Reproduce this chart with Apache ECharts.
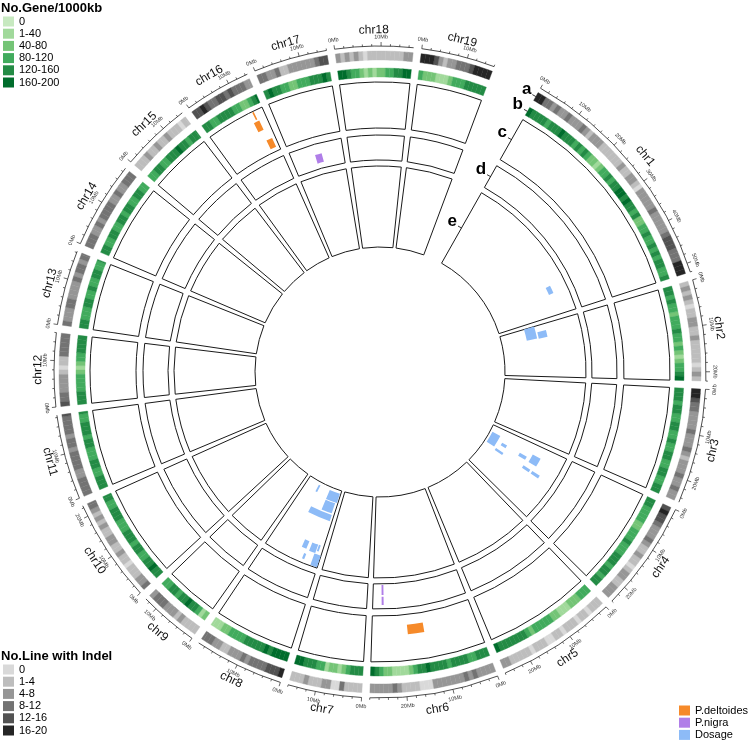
<!DOCTYPE html>
<html><head><meta charset="utf-8">
<script src="https://cdn.jsdelivr.net/npm/echarts@6/dist/echarts.min.js"></script>
<style>html,body{margin:0;padding:0;background:#fff}#c{width:750px;height:745px}</style>
</head><body><div id="c"></div>
<script>
// ---------------- DATA ----------------
const chromNames = ['chr1','chr2','chr3','chr4','chr5','chr6','chr7','chr8','chr9','chr10','chr11','chr12','chr13','chr14','chr15','chr16','chr17','chr18','chr19'];
const chromLengths = [52, 22, 25, 24, 26, 28, 16, 19.5, 13, 22.5, 18.5, 16, 16.3, 18.9, 15.3, 14.5, 16, 17, 16]; // Mb

// Track a: No.Line with Indel, level index per 1Mb bin (0..5)
const indelLevels = [
 [5,5,3,3,2,3,2,2,3,2,2,2,3,2,1,2,2,2,1,1,1,1,1,1,2,1,1,2,2,1,0,2,2,2,2,2,3,2,2,2,2,2,3,4,4,4,3,3,3,5,5,5],
 [1,2,1,2,1,0,1,1,2,2,1,1,2,1,1,1,1,1,0,1,2,1],
 [5,5,4,3,3,2,2,2,2,3,2,2,2,3,2,1,2,2,2,3,2,2,3,2,2],
 [4,5,4,4,3,2,2,2,3,2,1,1,2,1,1,0,1,2,2,1,1,2,2,2],
 [1,1,1,0,1,1,0,1,1,1,0,1,1,0,0,1,1,1,0,1,1,1,1,1,2,2],
 [2,2,2,2,3,2,3,2,2,2,2,2,2,2,0,0,0,1,1,1,1,2,3,2,2,2,2,2],
 [1,1,1,1,3,0,0,2,2,1,1,1,2,1,1,1],
 [5,4,4,4,3,3,3,3,2,3,2,2,2,1,1,2,2,3,3,3],
 [1,1,1,1,2,1,2,2,2,3,3,3,2],
 [3,2,2,1,1,1,0,1,1,2,1,1,2,2,1,1,2,1,2,1,2,3,3],
 [3,3,3,3,2,2,3,3,3,3,2,3,3,2,3,3,3,3,4],
 [4,3,3,2,2,2,2,1,0,1,1,3,3,3,3,3],
 [3,2,2,2,3,3,2,2,2,2,3,2,3,3,2,3,3],
 [3,3,3,2,2,3,2,3,3,3,3,2,2,3,2,2,3,3,3],
 [1,1,1,2,1,1,2,1,1,2,1,1,1,0,1,1],
 [4,4,5,4,3,3,4,4,3,4,3,3,3,2,2],
 [3,3,2,2,3,1,1,2,2,2,2,2,2,3,4,4],
 [2,1,2,1,2,1,0,1,1,1,1,1,1,1,1,2,2],
 [5,5,5,4,2,1,2,2,3,3,3,4,5,5,5,5]
];
// Track b: No.Gene/1000kb, level index per 1Mb bin (0..5)
const geneLevels = [
 [5,4,4,4,4,3,4,4,4,5,4,4,4,3,4,3,4,3,2,2,1,2,3,3,4,3,4,4,5,5,4,5,4,4,3,4,2,2,3,3,4,3,3,4,3,4,3,4,4,3,3,4],
 [4,4,3,4,3,3,2,3,3,3,4,3,3,2,3,2,1,2,3,3,4,5],
 [4,4,4,3,4,4,3,3,4,4,3,3,4,3,3,4,4,3,3,4,4,3,3,4,4],
 [4,4,3,3,3,3,2,2,3,3,3,4,3,3,3,4,4,4,3,4,4,3,4,4],
 [3,3,3,2,2,2,1,1,1,2,2,3,3,3,3,3,2,3,4,4,4,4,4,4,4,5],
 [4,4,4,3,3,4,4,4,4,3,4,4,4,4,5,4,4,3,2,1,1,1,1,2,2,3,4,5],
 [4,4,4,3,2,1,2,2,1,3,3,4,4,4,5,5],
 [5,5,5,5,4,5,4,4,4,4,4,3,3,3,3,2,2,1,1,1],
 [2,1,3,4,4,5,4,4,3,4,4,3,3],
 [4,4,5,4,4,3,3,4,4,3,4,4,4,3,3,3,4,4,4,3,3,4,4],
 [4,4,4,3,3,4,4,3,3,3,4,4,3,4,4,4,3,3,4],
 [4,4,4,3,3,3,3,2,1,2,3,3,4,4,4,4],
 [4,4,3,3,3,4,4,3,3,4,3,3,4,4,3,3,4],
 [4,4,3,3,4,4,3,3,4,4,3,4,4,3,3,4,4,3,3],
 [3,3,4,4,3,3,4,4,4,5,4,4,3,4,4,4],
 [4,4,3,3,4,4,4,4,3,3,2,2,3,4,5],
 [4,5,4,4,3,3,2,2,3,3,3,4,4,4,5,4],
 [5,5,4,3,3,2,1,2,1,2,2,3,3,4,4,5,5],
 [3,2,2,2,1,1,1,2,3,3,3,4,4,4,4,4]
];
// Regions: [chromIndex, startMb, endMb, yLow, yHigh] (y relative to track, 0..1)
const deltoidesRegions = [
 [15, 11.8, 12.2, 0.80, 0.98],
 [15, 11.0, 12.5, 0.54, 0.76],
 [15, 11.9, 13.6, 0.09, 0.30],
 [5, 14.0, 18.4, 0.22, 0.43]
];
const nigraRegions = [
 [16, 7.2, 9.3, 0.22, 0.58],
 [5, 24.7, 25.3, 0.04, 0.44],
 [5, 24.7, 25.3, 0.51, 0.84]
];
const dosageRegions = [
 [0, 41.0, 43.9, 0.75, 0.81],
 [1, 0.0, 5.4, 0.31, 0.44],
 [1, 2.7, 5.6, 0.46, 0.57],
 [3, 3.7, 10.0, 0.03, 0.14],
 [3, 6.2, 7.7, 0.20, 0.27],
 [3, 10.1, 11.3, 0.17, 0.28],
 [3, 4.1, 7.6, 0.60, 0.71],
 [3, 6.1, 7.6, 0.45, 0.55],
 [3, 9.8, 11.0, 0.57, 0.67],
 [3, 9.8, 11.0, 0.70, 0.81],
 [7, 12.0, 13.0, 0.04, 0.13],
 [7, 0.5, 6.4, 0.04, 0.16],
 [7, 1.3, 6.4, 0.17, 0.30],
 [7, 1.0, 11.4, 0.32, 0.40],
 [7, 5.9, 7.7, 0.72, 0.82],
 [7, 2.3, 4.7, 0.72, 0.83],
 [7, 1.3, 2.0, 0.72, 0.80],
 [7, 5.2, 6.0, 0.88, 0.95],
 [7, 0.1, 2.5, 0.84, 0.99]
];
const geneLegendLabels = ['0','1-40','40-80','80-120','120-160','160-200'];
const indelLegendLabels = ['0','1-4','4-8','8-12','12-16','16-20'];
const featureNames = ['P.deltoides','P.nigra','Dosage'];
const trackLetters = ['a','b','c','d','e'];
const TICK_STEP = 2, MAJOR_STEP = 10;

// ---------------- STYLE / LAYOUT ----------------
const greens = ['#c7e9c0','#a1d99b','#74c476','#41ab5d','#238b45','#006d2c'];
const greys  = ['#d9d9d9','#bdbdbd','#969696','#737373','#525252','#252525'];
const featureColors = ['#f68a2a','#b07ee8','#8dbbf7'];
const FONT = 'Liberation Sans, Arial, Helvetica, sans-serif';
const CENTER = [380, 372];
const GAP = 1.76, BIG_GAP = 11.0;
const START_ANGLE = 60.5;
const trackRadius = [[312,321],[295,304],[244,290],[212,237],[125,206]];
const AXIS_R = 326, TICKLABEL_R = 335, CHR_LABEL_R = 342;

const offsets = []; let acc = 0;
chromLengths.forEach((L, i) => { offsets.push(acc); acc += L + (i < chromLengths.length - 1 ? GAP : 0); });
const TOTAL = acc + BIG_GAP;

const polars = trackRadius.map(r => ({center: CENTER, radius: r}));
polars.push({center: CENTER, radius: [0, 360]});
const angleAxes = polars.map((p, i) => ({polarIndex: i, type: 'value', min: 0, max: TOTAL, startAngle: START_ANGLE, clockwise: true, show: false}));
const radiusAxes = polars.map((p, i) => ({polarIndex: i, type: 'value', min: 0, max: i === 5 ? 360 : 1, show: false}));

function scr(cs, p) { return Math.atan2(p[1] - cs.cy, p[0] - cs.cx); }
function sectorShape(params, api, v0, v1, a0, a1) {
  const cs = params.coordSys;
  const p0 = api.coord([v0, a0]), p1 = api.coord([v1, a1]);
  const r0 = Math.hypot(p0[0]-cs.cx, p0[1]-cs.cy), r1 = Math.hypot(p1[0]-cs.cx, p1[1]-cs.cy);
  let s = scr(cs, p0), e = scr(cs, p1);
  if (e < s) e += 2*Math.PI;
  return {cx: cs.cx, cy: cs.cy, r0: r0, r: r1, startAngle: s, endAngle: e, clockwise: true};
}
function tangentRot(cs, p) {
  let th = scr(cs, p) + Math.PI/2; // clockwise from north
  th = ((th % (2*Math.PI)) + 2*Math.PI) % (2*Math.PI);
  if (th > Math.PI/2 && th < 3*Math.PI/2) return Math.PI - th;
  return -th;
}

const series = [];
function heatSeries(prefix, polarIndex, levels, colors) {
  colors.forEach((color, lv) => {
    const data = [];
    levels.forEach((arr, k) => arr.forEach((v, i) => { if (v === lv && i < chromLengths[k]) data.push([k, i]); }));
    series.push({
      type: 'custom', name: prefix + lv, coordinateSystem: 'polar', polarIndex: polarIndex,
      itemStyle: {color: color}, data: data, silent: true,
      renderItem: (params, api) => {
        const k = api.value(0), i = api.value(1);
        const a0 = offsets[k] + i, a1 = offsets[k] + Math.min(i + 1, chromLengths[k]);
        return {type: 'sector', shape: sectorShape(params, api, 0, 1, a0, a1), style: {fill: color, stroke: color, lineWidth: 0.4}};
      }
    });
  });
}
heatSeries('a', 0, indelLevels, greys);
heatSeries('b', 1, geneLevels, greens);

// cell borders for tracks c, d, e
[2,3,4].forEach(pi => {
  series.push({
    type: 'custom', coordinateSystem: 'polar', polarIndex: pi, silent: true,
    data: chromLengths.map((L, k) => [k]),
    renderItem: (params, api) => {
      const k = api.value(0);
      return {type: 'sector', shape: sectorShape(params, api, 0, 1, offsets[k], offsets[k] + chromLengths[k]),
        style: {fill: 'none', stroke: '#1a1a1a', lineWidth: 1}};
    }
  });
});

// feature regions
[[deltoidesRegions, 2], [nigraRegions, 3], [dosageRegions, 4]].forEach(([regions, pi], j) => {
  series.push({
    type: 'custom', name: featureNames[j], coordinateSystem: 'polar', polarIndex: pi, silent: true,
    itemStyle: {color: featureColors[j]}, data: regions, z: 3,
    renderItem: (params, api) => {
      const k = api.value(0);
      return {type: 'sector', shape: sectorShape(params, api, api.value(3), api.value(4), offsets[k] + api.value(1), offsets[k] + api.value(2)),
        style: {fill: featureColors[j], stroke: null}};
    }
  });
});

// genomic axis, ticks, labels
series.push({
  type: 'custom', coordinateSystem: 'polar', polarIndex: 5, silent: true,
  data: chromLengths.map((L, k) => [k]),
  renderItem: (params, api) => {
    const cs = params.coordSys, k = api.value(0), L = chromLengths[k], off = offsets[k];
    const ch = [];
    const sh = sectorShape(params, api, AXIS_R, AXIS_R, off, off + L);
    ch.push({type: 'arc', shape: {cx: sh.cx, cy: sh.cy, r: AXIS_R, startAngle: sh.startAngle, endAngle: sh.endAngle, clockwise: true},
      style: {stroke: '#000', fill: 'none', lineWidth: 0.7}});
    for (let m = 0; m <= L; m += TICK_STEP) {
      const major = m % MAJOR_STEP === 0;
      const p0 = api.coord([AXIS_R, off + m]), p1 = api.coord([AXIS_R + (major ? 4 : 2), off + m]);
      ch.push({type: 'line', shape: {x1: p0[0], y1: p0[1], x2: p1[0], y2: p1[1]}, style: {stroke: '#000', lineWidth: 0.6}});
      if (major) {
        const pl = api.coord([TICKLABEL_R, off + m]);
        ch.push({type: 'text', x: pl[0], y: pl[1], rotation: tangentRot(cs, pl),
          style: {text: m + 'Mb', fontSize: 5.5, fontFamily: FONT, fill: '#333', align: 'center', verticalAlign: 'middle'}});
      }
    }
    const pc = api.coord([CHR_LABEL_R, off + L/2]);
    ch.push({type: 'text', x: pc[0], y: pc[1], rotation: tangentRot(cs, pc),
      style: {text: chromNames[k], fontSize: 12, fontFamily: FONT, fill: '#111', align: 'center', verticalAlign: 'middle'}});
    return {type: 'group', children: ch};
  }
});

// track letters a-e
series.push({
  type: 'custom', coordinateSystem: 'polar', polarIndex: 5, silent: true,
  data: trackRadius.map((r, i) => [i]),
  renderItem: (params, api) => {
    const cs = params.coordSys, i = api.value(0);
    const rm = (trackRadius[i][0] + trackRadius[i][1]) / 2;
    const p = api.coord([rm, offsets[0]]);
    const phi = scr(cs, p) - 4 / rm;
    const q = [cs.cx + rm * Math.cos(phi), cs.cy + rm * Math.sin(phi)];
    return {type: 'group', children: [
      {type: 'line', shape: {x1: p[0], y1: p[1], x2: q[0], y2: q[1]}, style: {stroke: '#000', lineWidth: 0.8}},
      {type: 'text', x: q[0] - 1, y: q[1] - 5, style: {text: trackLetters[i], fontSize: 17, fontWeight: 'bold', fontFamily: FONT, fill: '#000', align: 'right', verticalAlign: 'middle'}}
    ]};
  }
});

const legendText = {fontSize: 11, fontFamily: FONT, color: '#000'};
const titleText = {fontSize: 13, fontWeight: 'bold', fontFamily: FONT, color: '#000'};
const legendBase = {orient: 'vertical', itemWidth: 11, itemHeight: 10, itemGap: 1.2, padding: 0, icon: 'rect', selectedMode: false, textStyle: legendText};
const option = {
  animation: false,
  backgroundColor: '#fff',
  polar: polars, angleAxis: angleAxes, radiusAxis: radiusAxes,
  title: [
    {text: 'No.Gene/1000kb', left: 1, top: 2, padding: 0, textStyle: titleText},
    {text: 'No.Line with Indel', left: 1, top: 650, padding: 0, textStyle: titleText}
  ],
  legend: [
    Object.assign({data: greens.map((c, i) => 'b' + i), formatter: n => geneLegendLabels[+n.slice(1)], left: 3, top: 16}, legendBase),
    Object.assign({data: greys.map((c, i) => 'a' + i), formatter: n => indelLegendLabels[+n.slice(1)], left: 3, top: 664}, legendBase),
    Object.assign({data: featureNames, left: 679, top: 705}, legendBase)
  ],
  series: series
};
const chart = echarts.init(document.getElementById('c'), null, {renderer: 'canvas'});
chart.setOption(option);
</script>
</body></html>
